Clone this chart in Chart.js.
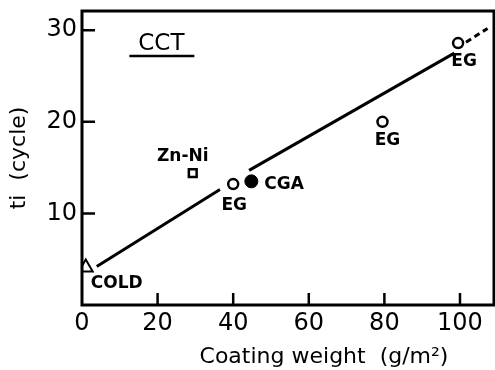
<!DOCTYPE html>
<html lang="en">
<head>
  <meta charset="UTF-8" />
  <title>CCT - ti vs coating weight</title>
  <script src="https://cdn.jsdelivr.net/npm/chart.js"></script>
  <style>
    body { margin: 0; background: #fff; }
    #wrap { width: 495px; height: 370px; }
  </style>
</head>
<body>
  <div id="wrap"><canvas id="chart"></canvas></div>
  <script>
    // values
    const xTicks = [0, 20, 40, 60, 80, 100];
    const yTicks = [10, 20, 30];

    const coldPts = [{ x: 1, y: 4.1 }];
    const znNiPts = [{ x: 29.3, y: 14.4 }];
    const egPts = [{ x: 40, y: 13.2 }, { x: 79.5, y: 20.0 }, { x: 99.5, y: 28.6 }];
    const cgaPts = [{ x: 44.8, y: 13.5 }];

    const fitSolid = [{ x: 3.9, y: 4.2 }, { x: 36.5, y: 12.6 }, { x: 40, y: null }, { x: 44.2, y: 14.7 }, { x: 98.5, y: 27.5 }];
    const fitDashed = [{ x: 101.6, y: 28.7 }, { x: 107.3, y: 30.2 }];

    // point labels: [text, x, y, dx, dy, align]
    const pointLabels = [
      ["COLD", 1, 4.1, 5, 16, "left"],
      ["Zn-Ni", 29.3, 14.4, -10, -17, "center"],
      ["EG", 40, 13.2, 1, 21, "center"],
      ["CGA", 44.8, 13.5, 13, 3, "left"],
      ["EG", 79.5, 20.0, 5, 19, "center"],
      ["EG", 99.5, 28.6, 6, 19, "center"]
    ];

    const font = "'DejaVu Sans', sans-serif";

    function noPad(s) {
      s.paddingTop = 0; s.paddingBottom = 0; s.paddingLeft = 0; s.paddingRight = 0;
    }

    const decor = {
      id: "decor",
      afterDraw(chart) {
        const { ctx, chartArea: a, scales: { x, y } } = chart;
        ctx.save();
        ctx.strokeStyle = "#000";
        ctx.lineWidth = 3;
        ctx.strokeRect(a.left, a.top, a.right - a.left, a.bottom - a.top);

        // inward tick marks
        ctx.lineWidth = 2.5;
        ctx.beginPath();
        xTicks.forEach(v => {
          if (v === 0) return;
          const px = x.getPixelForValue(v);
          ctx.moveTo(px, a.bottom);
          ctx.lineTo(px, a.bottom - 12);
        });
        yTicks.forEach(v => {
          const py = y.getPixelForValue(v);
          ctx.moveTo(a.left, py);
          ctx.lineTo(a.left + 13, py);
        });
        ctx.stroke();

        // point labels
        ctx.fillStyle = "#000";
        ctx.textBaseline = "middle";
        ctx.font = "bold 17px " + font;
        pointLabels.forEach(([t, vx, vy, dx, dy, al]) => {
          ctx.textAlign = al;
          ctx.fillText(t, x.getPixelForValue(vx) + dx, y.getPixelForValue(vy) + dy);
        });

        // CCT header with underline
        ctx.font = "23px " + font;
        ctx.textAlign = "center";
        const cx = x.getPixelForValue(21), cy = y.getPixelForValue(28.5);
        ctx.fillText("CCT", cx, cy);
        ctx.lineWidth = 2.5;
        ctx.beginPath();
        ctx.moveTo(cx - 32, cy + 12);
        ctx.lineTo(cx + 33, cy + 12);
        ctx.stroke();

        // x axis title
        ctx.font = "22px " + font;
        ctx.textAlign = "center";
        ctx.fillText("Coating weight  (g/m²)", 324, 357);
        ctx.restore();
      }
    };

    new Chart(document.getElementById("chart"), {
      type: "scatter",
      data: {
        datasets: [
          { type: "line", data: fitSolid, borderColor: "#000", borderWidth: 3, pointRadius: 0, spanGaps: false, order: 5 },
          { type: "line", data: fitDashed, borderColor: "#000", borderWidth: 3, borderDash: [6, 4], pointRadius: 0, order: 5 },
          { data: coldPts, pointStyle: "triangle", pointRadius: 8, backgroundColor: "#fff", borderColor: "#000", borderWidth: 2 },
          { data: znNiPts, pointStyle: "rect", pointRadius: 5.5, backgroundColor: "#fff", borderColor: "#000", borderWidth: 2.5 },
          { data: egPts, pointStyle: "circle", pointRadius: 5, backgroundColor: "#fff", borderColor: "#000", borderWidth: 2.5 },
          { data: cgaPts, pointStyle: "circle", pointRadius: 6.5, backgroundColor: "#000", borderColor: "#000", borderWidth: 1 }
        ]
      },
      options: {
        responsive: true,
        maintainAspectRatio: false,
        animation: false,
        layout: { autoPadding: false, padding: { top: 11, right: 1, left: 0, bottom: 0 } },
        plugins: { legend: { display: false }, tooltip: { enabled: false } },
        scales: {
          x: {
            type: "linear", min: 0, max: 109,
            afterFit: s => { s.height = 65; noPad(s); },
            afterBuildTicks: s => { s.ticks = xTicks.map(v => ({ value: v })); },
            grid: { display: false, drawTicks: false },
            border: { display: false },
            ticks: { color: "#000", font: { family: font, size: 24 }, padding: 4 }
          },
          y: {
            type: "linear", min: 0, max: 32.1,
            afterFit: s => { s.width = 82; noPad(s); },
            afterBuildTicks: s => { s.ticks = yTicks.map(v => ({ value: v })); },
            grid: { display: false, drawTicks: false },
            border: { display: false },
            ticks: { color: "#000", font: { family: font, size: 24 }, padding: 5 },
            title: { display: true, text: "ti  (cycle)", color: "#000", font: { family: font, size: 22 }, padding: { top: 6, bottom: 0 } }
          }
        }
      },
      plugins: [decor]
    });
  </script>
</body>
</html>
